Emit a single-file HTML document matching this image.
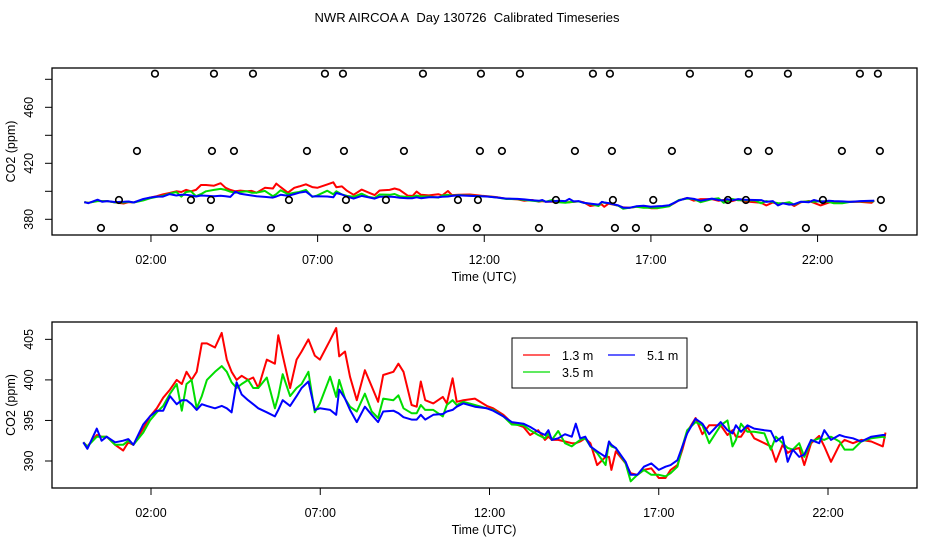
<!DOCTYPE html>
<html><head><meta charset="utf-8">
<style>
html,body{margin:0;padding:0;background:#fff;}
svg{display:block;font-family:"Liberation Sans",Arial,sans-serif;}
</style></head>
<body>
<svg id="chart" width="936" height="540" viewBox="0 0 936 540">
<text x="467" y="22" font-size="13" text-anchor="middle" style="white-space:pre">NWR AIRCOA A&#160; Day 130726&#160; Calibrated Timeseries</text>
<g id="top"></g>
<g id="bot"></g>
</svg>
<script>
// ---- data ----
const times = [0,0.12,0.40,0.54,0.69,0.94,1.18,1.33,1.48,1.77,1.97,2.17,2.36,2.56,2.76,2.91,3.05,3.20,3.35,3.50,3.65,3.89,4.09,4.24,4.38,4.53,4.68,4.87,5.02,5.17,5.42,5.66,5.76,5.89,6.11,6.30,6.45,6.65,6.84,6.99,7.29,7.47,7.56,7.73,7.88,8.08,8.32,8.52,8.71,8.86,9.16,9.31,9.46,9.70,9.85,9.97,10.10,10.34,10.62,10.74,10.91,11.03,11.23,11.57,11.92,12.11,12.41,12.66,13.00,13.20,13.44,13.64,13.74,13.84,14.03,14.23,14.43,14.55,14.68,14.83,14.98,15.18,15.43,15.53,15.60,15.73,16.02,16.17,16.37,16.56,16.78,17.00,17.20,17.35,17.55,17.70,17.84,18.09,18.29,18.49,18.83,19.03,19.18,19.28,19.43,19.62,19.82,20.12,20.31,20.46,20.66,20.81,20.96,21.15,21.30,21.50,21.74,21.89,22.09,22.34,22.49,22.74,22.98,23.28,23.62,23.70];
const red1_3m = [392.3,391.8,393.2,393.0,393.0,392.0,391.3,392.3,392.0,394.0,395.5,396.5,397.8,398.8,400.0,399.5,401.0,400.0,401.0,404.5,404.5,404.0,405.8,402.5,401.0,400.0,400.5,400.0,400.3,399.0,402.5,402.0,405.5,403.0,399.0,402.5,403.5,405.0,403.0,402.5,404.9,406.4,402.9,403.5,400.4,397.5,401.2,399.2,397.3,400.6,401.0,402.0,401.0,396.9,396.7,399.8,397.5,397.1,397.9,397.1,400.2,397.3,397.5,397.7,396.8,396.5,395.7,394.7,394.2,393.2,393.8,392.6,393.0,392.6,392.6,392.4,392.2,392.2,392.4,392.8,392.2,389.5,390.5,390.5,388.9,391.2,389.7,388.5,388.3,388.9,389.1,387.9,387.9,388.9,389.5,391.4,393.6,395.3,393.3,394.4,394.4,393.2,393.8,393.0,393.0,394.2,392.8,392.2,391.8,389.9,392.0,391.0,391.4,391.6,389.5,392.2,393.1,391.8,389.9,392.0,392.6,392.2,392.6,392.4,391.8,393.5];
const green3_5m = [392.3,391.8,393.0,393.0,393.0,392.0,392.0,392.5,392.0,393.5,395.0,396.0,396.8,398.3,399.5,396.2,399.5,400.0,396.5,398.0,400.0,401.0,401.7,401.0,399.7,399.0,399.5,400.0,399.0,399.0,400.3,396.5,398.0,400.7,398.0,399.0,399.5,401.0,396.0,397.1,400.4,397.9,400.0,397.7,396.7,396.1,398.3,396.1,395.3,397.7,397.5,398.1,396.5,395.9,395.9,396.9,396.3,396.3,395.5,396.9,397.5,396.9,397.3,396.9,396.5,396.3,395.5,394.5,394.4,393.8,393.2,392.8,393.4,392.6,393.7,392.2,391.8,392.2,392.6,392.8,391.8,391.0,389.5,392.4,391.8,391.6,389.7,387.5,388.3,388.9,388.3,388.3,388.1,388.5,389.3,391.8,393.8,394.8,394.4,392.2,394.4,395.0,391.8,392.6,394.6,393.6,393.6,393.4,391.4,393.0,392.2,391.6,391.4,392.2,390.5,392.4,392.8,392.6,393.0,392.4,391.4,391.4,392.4,392.8,393.0,392.8];
const blue5_1m = [392.3,391.5,394.0,392.5,393.0,392.3,392.5,392.7,392.0,394.5,395.5,396.2,396.2,398.0,397.0,397.5,397.5,397.0,396.3,397.0,396.8,396.5,396.8,396.5,396.0,399.7,398.2,397.5,397.0,396.5,396.0,395.5,396.3,397.5,396.8,398.0,399.0,399.8,396.3,396.5,396.3,395.7,398.8,397.7,396.3,394.8,396.7,395.7,394.8,396.1,396.2,395.9,395.4,395.1,395.1,395.7,395.1,395.7,395.8,396.1,396.3,396.7,397.1,396.7,396.5,396.2,395.5,394.8,394.6,394.2,393.6,393.2,393.8,392.6,392.8,393.3,393.0,394.6,392.8,393.0,391.8,391.2,390.5,392.4,392.0,391.6,389.9,388.3,388.3,389.3,389.7,388.9,389.3,389.5,390.1,391.8,393.4,395.2,394.6,393.3,394.8,393.8,393.4,394.4,393.6,394.4,394.0,393.8,393.7,392.4,393.0,389.9,391.4,390.5,390.8,392.6,392.2,393.8,392.6,393.2,393.0,392.8,392.4,393.0,393.2,393.2];
// flag-point markers (time in hours, value ppm)
const markerTimes = [2.12,3.89,5.06,7.22,7.76,10.16,11.90,13.07,15.26,15.77,18.17,19.94,21.11,23.27,23.81,
 1.58,3.83,4.49,6.68,7.79,9.59,11.87,12.53,14.72,15.83,17.63,19.91,20.54,22.73,23.87,
 1.04,3.20,3.80,6.14,7.85,9.05,11.21,11.81,14.15,15.86,17.07,19.31,19.85,22.16,23.90,
 0.50,2.69,3.77,5.60,7.88,8.51,10.70,11.78,13.64,15.92,16.55,18.71,19.79,21.65,23.96];
const markerValues = [484,484,484,484,484,484,484,484,484,484,484,484,484,484,484,
 428.8,428.8,428.8,428.8,428.8,428.8,428.8,428.8,428.8,428.8,428.8,428.8,428.8,428.8,428.8,
 393.8,393.8,393.8,393.8,393.8,393.8,393.8,393.8,393.8,393.8,393.8,393.8,393.8,393.8,393.8,
 373.8,373.8,373.8,373.8,373.8,373.8,373.8,373.8,373.8,373.8,373.8,373.8,373.8,373.8,373.8];
const xTickHours = [2,7,12,17,22];
const xTickLabels = ["02:00","07:00","12:00","17:00","22:00"];
const topYTicks = [380,400,420,440,460,480];
const topYLabels = ["380","","420","","460",""];
const botYTicks = [390,395,400,405];
const botYLabels = ["390","395","400","405"];
const seriesNames = ["1.3 m","3.5 m","5.1 m"];
const seriesColors = ["#ff0000","#00dd00","#0000ff"];

const NS="http://www.w3.org/2000/svg";
function mk(parent,tag,attrs,txt){const e=document.createElementNS(NS,tag);for(const k in attrs)e.setAttribute(k,attrs[k]);if(txt!==undefined)e.textContent=txt;parent.appendChild(e);return e;}

function panel(g,box,xs,ys,yTicks,yLabels,withMarkers){
  const r=mk(g,'rect',{x:box.l,y:box.t,width:box.r-box.l,height:box.b-box.t,fill:'none',stroke:'#000','stroke-width':1.3});
  
  
  xTickHours.forEach((h,i)=>{
    const x=xs(h);
    const tk=mk(g,'line',{x1:x,x2:x,y1:box.b,y2:box.b+7,stroke:'#000','stroke-width':1});
    
    
    const tl=mk(g,'text',{x:x,y:box.b+29,'font-size':12.5,'text-anchor':'middle'},xTickLabels[i]);
    
    
  });
  yTicks.forEach((v,i)=>{
    const y=ys(v);
    const tk=mk(g,'line',{x1:box.l-7,x2:box.l,y1:y,y2:y,stroke:'#000','stroke-width':1});
    
    
    if(yLabels[i]){
      const tl=mk(g,'text',{x:0,y:0,'font-size':12.5,'text-anchor':'middle',transform:`translate(${box.l-19},${y}) rotate(-90)`},yLabels[i]);
      
      
    }
  });
  const xt=mk(g,'text',{x:484,y:box.b+46,'font-size':12.5,'text-anchor':'middle'},'Time (UTC)');
  
  
  const yt=mk(g,'text',{x:0,y:0,'font-size':12.5,'text-anchor':'middle',transform:`translate(15,${(box.t+box.b)/2}) rotate(-90)`},'CO2 (ppm)');
  
  
  [red1_3m,green3_5m,blue5_1m].forEach((arr,si)=>{
    const pts=times.map((t,i)=>xs(t).toFixed(1)+','+ys(arr[i]).toFixed(1)).join(' ');
    const pl=mk(g,'polyline',{points:pts,fill:'none',stroke:seriesColors[si],'stroke-width':2,'stroke-linejoin':'round'});
    
    
  });
  if(withMarkers){
    markerTimes.forEach((t,i)=>{
      const c=mk(g,'circle',{cx:xs(t),cy:ys(markerValues[i]),r:3.3,fill:'none',stroke:'#000','stroke-width':1.6});
      
      
    });
  }
}
const topBox={l:52,r:917,t:68,b:235};
panel(document.getElementById('top'),topBox,h=>84.3+h*33.33,v=>219.3-(v-380)*1.4,topYTicks,topYLabels,true);
const botBox={l:52,r:917,t:322,b:488};
const bg=document.getElementById('bot');
panel(bg,botBox,h=>83.3+h*33.85,v=>461-(v-390)*8.11,botYTicks,botYLabels,false);

// legend
const lg=mk(bg,'g',{});


mk(lg,'rect',{x:512,y:338,width:175,height:50,fill:'#fff',stroke:'#000','stroke-width':1});
const legPos=[[523,355],[523,372],[608,355]];
seriesNames.forEach((n,i)=>{
  const [lx,ly]=legPos[i];
  const ln=mk(lg,'line',{x1:lx,x2:lx+27,y1:ly,y2:ly,stroke:seriesColors[i],'stroke-width':1.2});
  
  
  const tx=mk(lg,'text',{x:lx+39,y:ly+5,'font-size':12.5},n);
  
  
});
</script>
</body></html>
